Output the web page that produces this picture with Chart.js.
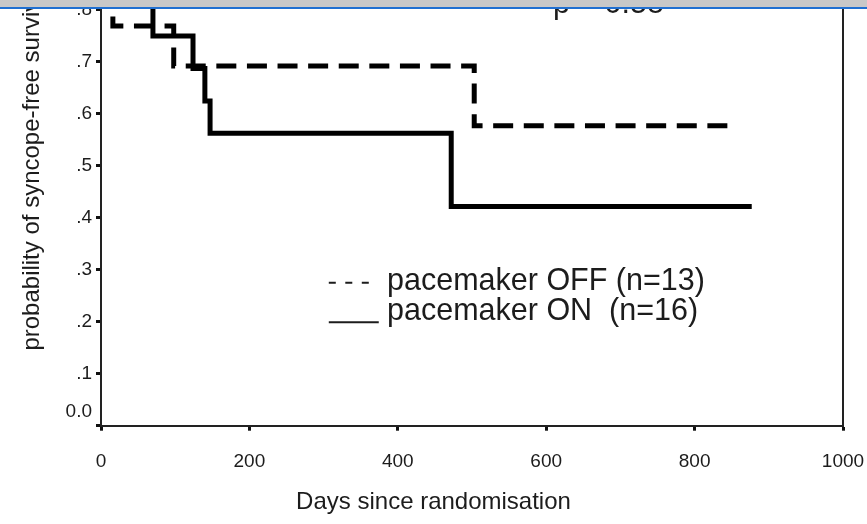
<!DOCTYPE html>
<html><head><meta charset="utf-8">
<script src="https://cdn.jsdelivr.net/npm/chart.js@4.4.1/dist/chart.umd.min.js"></script>
<style>
html,body{margin:0;padding:0;background:#fff;overflow:hidden;}
#frame{position:relative;width:867px;height:524px;overflow:hidden;background:#fff;}
#wrap{position:absolute;left:0;top:-130px;width:867px;height:654px;}
#bar{position:absolute;left:0;top:0;width:867px;height:7px;background:#c8c8c8;z-index:2;}
#blue{position:absolute;left:0;top:7px;width:867px;height:2px;background:#1f6fd1;z-index:2;}
</style></head><body>
<div id="frame"><div id="wrap"><canvas id="c" width="867" height="654"></canvas></div><div id="bar"></div><div id="blue"></div></div>
<script>
// ---- data ----
const seriesLabels = ['pacemaker OFF (n=13)', 'pacemaker ON  (n=16)'];
const offDays = [0, 16, 98, 503, 850];
const offSurv = [1.0, 0.769, 0.692, 0.577, 0.577];
const onDays  = [0, 70, 124, 140, 147, 472, 877];
const onSurv  = [1.0, 0.75, 0.6875, 0.625, 0.5625, 0.422, 0.422];
const xTickValues = [0, 200, 400, 600, 800, 1000];
const yTickLabels = ['0.0', '.1', '.2', '.3', '.4', '.5', '.6', '.7', '.8', '.9', '1.0'];
const pValueText = 'p = 0.58';
const xTitle = 'Days since randomisation';
const yTitle = 'probability of syncope-free survival';

const FONT = '"Liberation Sans", Arial, Helvetica, sans-serif';
const INK = '#1c1c1c';
const toPts = (xs, ys) => xs.map((x, i) => ({x: x, y: ys[i]}));

const overlay = {
  id: 'overlay',
  afterDraw(chart) {
    const ctx = chart.ctx, a = chart.chartArea, x = chart.scales.x, y = chart.scales.y;
    ctx.save();
    // plot frame (right + top)
    ctx.strokeStyle = '#222'; ctx.lineWidth = 2;
    ctx.beginPath();
    ctx.moveTo(a.right, a.top); ctx.lineTo(a.right, a.bottom);
    ctx.moveTo(a.left, a.top); ctx.lineTo(a.right, a.top);
    ctx.stroke();
    // p value annotation
    ctx.fillStyle = INK; ctx.font = '30.5px ' + FONT;
    ctx.textAlign = 'left'; ctx.textBaseline = 'alphabetic';
    ctx.fillText(pValueText, x.getPixelForValue(609), y.getPixelForValue(0.794));
    // legend (inside plot)
    const sx0 = x.getPixelForValue(307), sx1 = x.getPixelForValue(373), tx = x.getPixelForValue(385.5);
    ctx.lineWidth = 2; ctx.strokeStyle = INK; ctx.lineCap = 'butt';
    ctx.setLineDash([7, 9.5]);
    ctx.beginPath(); ctx.moveTo(sx0, y.getPixelForValue(0.275)); ctx.lineTo(sx1, y.getPixelForValue(0.275)); ctx.stroke();
    ctx.setLineDash([]);
    ctx.beginPath(); ctx.moveTo(sx0, y.getPixelForValue(0.199)); ctx.lineTo(sx1 + 1, y.getPixelForValue(0.199)); ctx.stroke();
    ctx.fillText(seriesLabels[0], tx, y.getPixelForValue(0.2615));
    ctx.fillText(seriesLabels[1], tx, y.getPixelForValue(0.204));
    ctx.restore();
  }
};

new Chart(document.getElementById('c'), {
  type: 'line',
  data: {
    datasets: [
      { label: seriesLabels[0], data: toPts(offDays, offSurv), stepped: true,
        borderColor: '#000', borderWidth: 5, borderDash: [20, 10.6], borderCapStyle: 'butt',
        borderJoinStyle: 'miter', pointRadius: 0, fill: false },
      { label: seriesLabels[1], data: toPts(onDays, onSurv), stepped: true,
        borderColor: '#000', borderWidth: 5, borderCapStyle: 'butt',
        borderJoinStyle: 'miter', pointRadius: 0, fill: false }
    ]
  },
  options: {
    responsive: false, animation: false, devicePixelRatio: 1,
    layout: { padding: { top: 36, right: 0, left: 0, bottom: 0 } },
    plugins: {
      legend: { display: false }, tooltip: { enabled: false },
      title: { display: true, position: 'bottom', text: xTitle, color: INK,
               font: { family: FONT, size: 24, weight: 'normal' }, padding: { top: 2, bottom: 7.5 } }
    },
    scales: {
      x: {
        type: 'linear', min: 0, max: 1000,
        afterBuildTicks: s => { s.ticks = xTickValues.map(v => ({value: v})); },
        afterFit: s => { s.height = 60; s.paddingRight = 24; s.paddingLeft = 0; },
        border: { color: '#222', width: 2 },
        grid: { drawOnChartArea: false, drawTicks: true, tickLength: 5, tickWidth: 3, tickColor: '#111' },
        ticks: { color: INK, font: { family: FONT, size: 19 }, padding: 20, maxRotation: 0, autoSkip: false,
                 callback: v => String(v) }
      },
      y: {
        type: 'linear', min: 0, max: 1.0,
        afterBuildTicks: s => { s.ticks = yTickLabels.map((t, i) => ({value: i / 10})); },
        afterFit: s => { s.width = 101; },
        border: { color: '#222', width: 2 },
        grid: { drawOnChartArea: false, drawTicks: true, tickLength: 5, tickWidth: 3, tickColor: '#111' },
        ticks: { color: INK, font: { family: FONT, size: 19, lineHeight: 1.5 }, padding: 4, autoSkip: false,
                 callback: (v) => { const i = Math.round(v * 10); return i === 0 ? [yTickLabels[0], ''] : yTickLabels[i]; } },
        title: { display: true, text: yTitle, color: INK, font: { family: FONT, size: 24 }, padding: { top: 18, bottom: 0 } }
      }
    }
  },
  plugins: [overlay]
});
</script>
</body></html>
